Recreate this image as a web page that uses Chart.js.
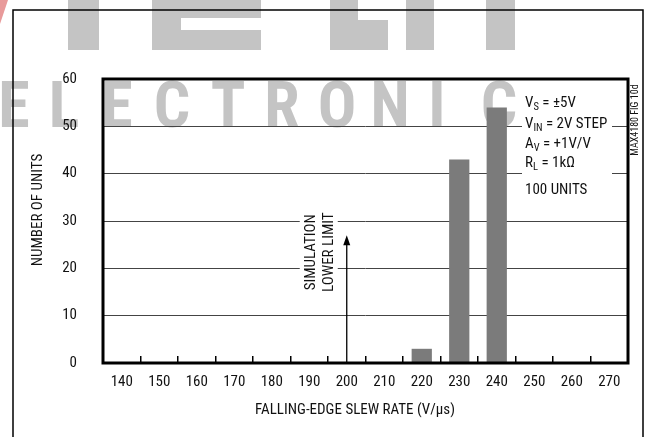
<!DOCTYPE html>
<html><head><meta charset="utf-8">
<script src="https://cdn.jsdelivr.net/npm/chart.js@4/dist/chart.umd.min.js"></script>
<style>html,body{margin:0;padding:0;background:#fff;overflow:hidden}#wrap{position:relative;width:645px;height:437px}canvas{display:block}</style>
</head><body><div id="wrap"><canvas id="c" width="645" height="437"></canvas></div>
<script>
// ---- data ----
const categories = ['140','150','160','170','180','190','200','210','220','230','240','250','260','270'];
const unitCounts = [0,0,0,0,0,0,0,0,3,43,54,0,0,0];
const yTickValues = [0,10,20,30,40,50,60];
const xTitle = 'FALLING-EDGE SLEW RATE (V/\u03BCs)';
const yTitle = 'NUMBER OF UNITS';
const limitCategory = '200';
const limitArrowValue = 27;
const limitLabel = ['SIMULATION','LOWER LIMIT'];
const conditionLines = [
  [{t:'V'},{t:'S',sub:true},{t:' = \u00B15V'}],
  [{t:'V'},{t:'IN',sub:true},{t:' = 2V STEP'}],
  [{t:'A'},{t:'V',sub:true},{t:' = +1V/V'}],
  [{t:'R'},{t:'L',sub:true},{t:' = 1k\u03A9'}]
];
const unitsNote = '100 UNITS';
const figId = 'MAX4180 FIG 10d';
const watermarkLetters = ['E','L','E','C','T','R','O','N','I','C'];

// ---- styling ----
const FONT = '"Liberation Sans Narrow","Arial Narrow","Roboto Condensed","Liberation Sans",sans-serif';
const WM = '#c4c4c4';

const decor = {
  id:'decor',
  beforeDraw(chart){
    const ctx = chart.ctx;
    ctx.save();
    ctx.fillStyle = '#fff';
    ctx.fillRect(0,0,chart.width,chart.height);
    // watermark (background logo)
    ctx.fillStyle = WM;
    [[68,0,31,50],[152,0,29,50],[181,0,80,18],[181,30,80,20],[330,0,28,50],[358,20,30,30],[406,0,28,50],[486,0,29,50]]
      .forEach(r=>ctx.fillRect(r[0],r[1],r[2],r[3]));
    ctx.fillStyle = '#e89a9a';
    ctx.beginPath(); ctx.moveTo(0,0); ctx.lineTo(8,0); ctx.lineTo(0,24); ctx.closePath(); ctx.fill();
    ctx.fillStyle = WM;
    ctx.font = 'bold 64px ' + FONT;
    ctx.textAlign = 'center'; ctx.textBaseline = 'alphabetic';
    const cx = [14,64,117,172,228,282,337,390,437,499];
    watermarkLetters.forEach((l,i)=>ctx.fillText(l,cx[i],127));
    // outer frame
    ctx.strokeStyle = '#000'; ctx.lineWidth = 1.5;
    ctx.beginPath();
    ctx.moveTo(13,437); ctx.lineTo(13,10); ctx.lineTo(643,10); ctx.lineTo(643,437);
    ctx.stroke();
    ctx.restore();
  },
  afterDatasetsDraw(chart){
    const ctx = chart.ctx, xs = chart.scales.x, ys = chart.scales.y, a = chart.chartArea;
    ctx.save();
    // limit arrow
    const ax = xs.getPixelForValue(categories.indexOf(limitCategory));
    const ay = ys.getPixelForValue(limitArrowValue);
    ctx.fillStyle = '#fff';
    ctx.fillRect(ax-47, ay-25, 38, 86);
    ctx.strokeStyle = '#000'; ctx.lineWidth = 1.3;
    ctx.beginPath(); ctx.moveTo(ax, a.bottom); ctx.lineTo(ax, ay+8); ctx.stroke();
    ctx.fillStyle = '#000';
    ctx.beginPath(); ctx.moveTo(ax, ay); ctx.lineTo(ax-3.5, ay+10); ctx.lineTo(ax+3.5, ay+10); ctx.closePath(); ctx.fill();
    ctx.save();
    ctx.translate(ax, ay+17);
    ctx.rotate(-Math.PI/2);
    ctx.font = '15px ' + FONT; ctx.fillStyle = '#111';
    ctx.textAlign = 'center'; ctx.textBaseline = 'middle';
    ctx.fillText(limitLabel[0], 0, -36);
    ctx.fillText(limitLabel[1], 0, -18);
    ctx.restore();
    // conditions box
    ctx.fillStyle = '#fff';
    ctx.fillRect(522, a.top+2, 90, 134);
    ctx.fillStyle = '#111'; ctx.textAlign = 'left'; ctx.textBaseline = 'alphabetic';
    const ys0 = [107, 128, 148, 167];
    conditionLines.forEach((runs,i)=>{
      let x = 525;
      runs.forEach(r=>{
        ctx.font = (r.sub ? '10.5px ' : '15px ') + FONT;
        ctx.fillText(r.t, x, ys0[i] + (r.sub ? 3 : 0));
        x += ctx.measureText(r.t).width;
      });
    });
    ctx.font = '15px ' + FONT;
    ctx.fillText(unitsNote, 525, 194);
    ctx.restore();
  },
  afterDraw(chart){
    const ctx = chart.ctx, a = chart.chartArea;
    ctx.save();
    ctx.strokeStyle = '#000'; ctx.lineWidth = 3;
    ctx.strokeRect(a.left, a.top, a.right-a.left, a.bottom-a.top);
    ctx.fillStyle = '#111';
    ctx.textAlign = 'center'; ctx.textBaseline = 'middle';
    ctx.font = '15px ' + FONT;
    ctx.fillText(xTitle, 355, 410);
    ctx.save(); ctx.translate(38, 210); ctx.rotate(-Math.PI/2);
    ctx.fillText(yTitle, 0, 0); ctx.restore();
    ctx.save(); ctx.translate(635, 120); ctx.rotate(-Math.PI/2);
    ctx.font = '10px ' + FONT; ctx.fillText(figId, 0, 0); ctx.restore();
    ctx.restore();
  }
};

new Chart(document.getElementById('c'), {
  type:'bar',
  data:{ labels:categories, datasets:[{ data:unitCounts, backgroundColor:'#7b7b7b', borderWidth:0, barPercentage:0.54, categoryPercentage:1 }]},
  options:{
    responsive:false, animation:false, devicePixelRatio:1,
    layout:{ padding:{ left:0, top:79, right:17, bottom:0 } },
    plugins:{ legend:{display:false}, tooltip:{enabled:false} },
    scales:{
      x:{
        offset:true,
        grid:{ offset:true, drawOnChartArea:false, drawTicks:true, tickLength:-7, color:'#000', lineWidth:1.5 },
        border:{ display:false },
        ticks:{ color:'#111', font:{ family:FONT, size:15 }, padding:17, maxRotation:0, autoSkip:false },
        afterFit(s){ s.height = 74; }
      },
      y:{
        min:0, max:60,
        afterBuildTicks(s){ s.ticks = yTickValues.map(v=>({value:v})); },
        grid:{ drawTicks:false, color:'#444', lineWidth:1 },
        border:{ display:false },
        ticks:{ color:'#111', font:{ family:FONT, size:15 }, padding:26 },
        afterFit(s){ s.width = 103; }
      }
    }
  },
  plugins:[decor]
});
</script></body></html>
